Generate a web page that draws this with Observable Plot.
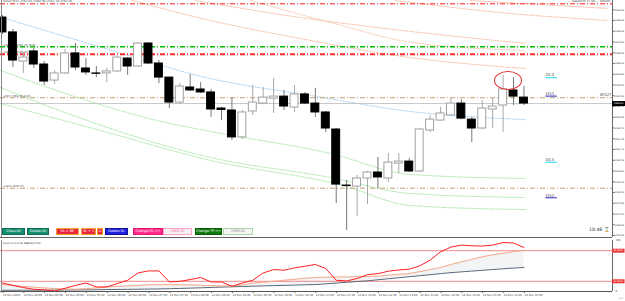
<!DOCTYPE html>
<html><head><meta charset="utf-8">
<script src="https://cdn.jsdelivr.net/npm/d3@7"></script>
<script src="https://cdn.jsdelivr.net/npm/@observablehq/plot@0.6"></script>
<style>
body{margin:0;background:#fff;overflow:hidden;font-family:"DejaVu Sans",sans-serif}
#wrap{position:relative;width:625px;height:301px;overflow:hidden}
#main{position:absolute;left:0;top:0}
#sub{position:absolute;left:0;top:238px}
.btn{position:absolute;top:228px;height:7px;font-size:3.4px;line-height:5px;text-align:center;color:#fff;box-sizing:border-box;border:1px solid;white-space:nowrap;overflow:hidden}
#clock{position:absolute;left:589px;top:227px;font-size:4.6px;color:#333}
#ell{position:absolute;border:1px solid #e03030;border-radius:50%;box-sizing:border-box}
.toptxt{position:absolute;top:-1px;font-size:3px;color:#444;white-space:nowrap}
</style></head><body>
<div id="wrap"><div id="main"></div><div id="sub"></div></div>
<script>
// ---- candles (15 min, 14 Nov 2024) ----
const times = ["03:30","03:45","04:00","04:15","04:30","04:45","05:00","05:15","05:30","05:45","06:00","06:15","06:30","06:45","07:00","07:15","07:30","07:45","08:00","08:15","08:30","08:45","09:00","09:15","09:30","09:45","10:00","10:15","10:30","10:45","11:00","11:15","11:30","11:45","12:00","12:15","12:30","12:45","13:00","13:15","13:30","13:45","14:00","14:15","14:30","14:45","15:00","15:15","15:30","15:45","16:00"];
const open  = [2569.11,2568.21,2566.45,2567.06,2566.27,2565.30,2565.73,2566.94,2566.03,2565.73,2565.73,2565.85,2566.63,2566.15,2567.54,2566.33,2565.48,2563.97,2564.88,2564.76,2564.58,2563.61,2563.49,2561.86,2563.43,2563.91,2564.21,2564.33,2563.67,2564.46,2563.91,2563.37,2562.34,2558.95,2558.89,2559.38,2559.74,2559.38,2560.28,2560.40,2559.80,2562.28,2562.88,2563.19,2563.91,2562.94,2562.40,2563.55,2563.79,2564.70,2564.27];
const high  = [2569.23,2568.39,2567.00,2567.24,2566.45,2565.91,2567.18,2567.54,2566.63,2566.15,2566.03,2566.75,2566.69,2567.60,2567.60,2566.51,2565.48,2565.12,2565.67,2565.18,2564.76,2563.67,2564.27,2563.49,2565.00,2564.88,2565.42,2564.70,2565.00,2564.58,2564.82,2563.43,2562.40,2559.26,2559.56,2559.80,2560.65,2560.89,2560.89,2560.59,2562.40,2563.19,2563.67,2564.27,2564.15,2563.07,2564.09,2564.21,2565.61,2565.48,2564.94];
const low   = [2568.08,2566.09,2565.73,2566.03,2565.00,2565.06,2565.67,2565.91,2565.61,2565.48,2565.18,2565.79,2565.61,2566.09,2566.27,2565.12,2563.61,2563.85,2564.64,2564.52,2563.07,2562.88,2561.67,2561.74,2563.19,2563.85,2563.31,2563.49,2563.37,2563.85,2563.07,2562.16,2557.87,2556.23,2557.08,2557.80,2558.77,2559.13,2559.68,2559.74,2559.74,2562.16,2562.88,2563.13,2562.94,2561.55,2562.34,2562.40,2562.16,2563.79,2563.79];
const close = [2568.21,2566.51,2566.69,2566.27,2565.24,2565.73,2566.94,2566.09,2565.79,2565.71,2565.85,2566.69,2566.15,2567.54,2566.33,2565.48,2563.97,2564.94,2564.70,2564.58,2563.55,2563.52,2561.86,2563.37,2563.97,2564.27,2564.33,2563.73,2564.46,2563.91,2563.37,2562.40,2559.01,2558.92,2559.38,2559.74,2559.44,2560.34,2560.40,2559.80,2562.34,2562.94,2563.31,2563.91,2563.00,2562.40,2563.61,2563.73,2564.76,2564.33,2563.91];

// ---- stochastic sub-window ----
const stochMain = [16.7,12,7.7,4.3,3.3,1,6.3,12,16.7,8.9,8.9,15.6,22,36.4,40.4,40.4,18.7,20,23.4,27.4,18.7,18.7,10.2,16.7,22,36.4,43,41.7,46.3,49.6,53,45,22,20.7,25.4,33,35,39.8,42.3,43.7,50.2,61.4,77.8,87,91,89.6,89,91,96,95,86.4];
const stochSignal = [13.6,12,10,8.5,7,5.7,5,4.5,5.5,7,8.9,10,11,12,13,13.6,13.5,13.2,13,12.2,11.5,11,10.8,13,16.7,18,20,22,24,26,27.4,28,28.5,28.5,29,29.5,30,32,33.5,35.2,39,43,47,53,58,63,68,72,75,78,81];
const stochSlow = [2.4,2.4,2.5,2.5,2.6,2.8,2.9,3.0,3.2,3.4,3.8,4.0,4.2,4.5,4.8,5.0,5.5,6.0,6.6,7.2,8.0,8.6,9.2,9.8,10.4,11.0,11.5,12.0,12.6,13.1,13.6,15.0,16.5,18.0,19.5,21.0,23.0,25.0,27.0,29.0,31.0,33.0,35.0,37.0,38.5,40.0,41.5,43.0,44.5,46.0,47.0];
const stochLevels = [80, 20];
const stochLevelLabels = ["80.0000", "20.0000"];

// ---- axis ticks ----
const priceTicks = [2569.58,2568.93,2568.28,2567.63,2566.98,2566.33,2565.68,2565.03,2564.38,2563.73,2563.08,2562.43,2561.78,2561.13,2560.48,2559.83,2559.18,2558.53,2557.88,2557.23,2556.58,2555.93];
const timeTickIdx = [0,2,4,6,8,10,12,14,16,18,20,22,24,26,28,30,32,34,36,38,40,42,44,46,48,50];
const timeTickLabels = ["14 Nov 2024","14 Nov 04:00","14 Nov 04:30","14 Nov 05:00","14 Nov 05:30","14 Nov 06:00","14 Nov 06:30","14 Nov 07:00","14 Nov 07:30","14 Nov 08:00","14 Nov 08:30","14 Nov 09:00","14 Nov 09:30","14 Nov 10:00","14 Nov 10:30","14 Nov 11:00","14 Nov 11:30","14 Nov 12:00","14 Nov 12:30","14 Nov 13:00","14 Nov 13:30","14 Nov 14:00","14 Nov 14:30","14 Nov 15:00","14 Nov 15:30","14 Nov 16:00"];

// ---- horizontal levels ----
const levelPrices = [2569.94, 2567.34, 2566.89, 2564.26, 2558.79];
const levelColors = ["#ff1a1a", "#00c000", "#ff2a2a", "#c4a070", "#c4a070"];
const levelWidths = [1, 1.4, 1.8, 1, 1];
const levelTexts = ["", "#SELL TP 2567.34 x0.01", "#SELL SL 2566.89", "#BUY 2564.26 x0.01", "#SELL 2558.79"];

// ---- dotted channel curves (candle index, price) ----
const blueIdx = [0.29, 9.88, 19.94, 29.53, 39.12, 50.14];
const bluePx  = [2569.05, 2567.24, 2565.42, 2564.40, 2563.43, 2562.94];
const s1Idx = [18.5, 28.57, 39.12, 50.14];       const s1Px = [2570.14, 2569.11, 2568.27, 2567.54];
const s2Idx = [12.46, 19.94, 28.57, 39.12, 50.14]; const s2Px = [2570.14, 2568.93, 2567.84, 2566.69, 2566.03];
const s3Idx = [23.78, 31.45, 39.12, 50.14];      const s3Px = [2570.14, 2568.81, 2567.62, 2567.12];
const s4Idx = [37.68, 47.75, 58.0];              const s4Px = [2570.14, 2569.41, 2568.93];
const s5Idx = [44.87, 58.0];                     const s5Px = [2570.14, 2569.66];
const g1Idx = [-0.19, 8.15, 14.86, 19.94, 31.45, 39.12, 50.14]; const g1Px = [2565.91, 2564.09, 2562.88, 2562.22, 2560.89, 2559.62, 2559.38];
const g2Idx = [-0.19, 6.23, 19.94, 31.45, 39.12, 50.14];        const g2Px = [2564.88, 2563.31, 2560.65, 2559.44, 2558.47, 2558.23];
const g3Idx = [-0.19, 9.40, 19.94, 32.69, 39.12, 50.14];        const g3Px = [2563.91, 2562.28, 2560.47, 2558.95, 2557.74, 2557.50];

// ---- right-side labels ----
const tagNames = ["DL3", "DS1", "DL4", "DS2"];
const tagPrices = [2565.47, 2564.36, 2560.36, 2558.21];
const tagColors = ["#00d8f0", "#1010c0", "#00d8f0", "#1010c0"];

const xDomain = [-0.19, 58.49];
const candles = times.map((t, i) => ({i, t, o: open[i], h: high[i], l: low[i], c: close[i], up: close[i] >= open[i]}));
const curve = (idx, px) => idx.map((x, k) => ({x, y: px[k]}));
const dotted = (idx, px, color, op = 0.9) => Plot.line(curve(idx, px), {x: "x", y: "y", curve: "monotone-x", stroke: color, strokeWidth: 0.9, strokeDasharray: "1,1.4", strokeOpacity: op});
const levels = levelPrices.map((p, k) => ({p, color: levelColors[k], w: levelWidths[k], text: levelTexts[k]}));
const last = close[close.length - 1];

const main = Plot.plot({
  width: 625, height: 238, marginLeft: 0, marginRight: 13, marginTop: 0, marginBottom: 1,
  x: {domain: xDomain, axis: null},
  y: {domain: [2555.81, 2570.14], axis: null},
  style: {fontFamily: "DejaVu Sans, sans-serif", background: "#fff", overflow: "visible"},
  marks: [
    dotted(s4Idx, s4Px, "#f6a888"), dotted(s5Idx, s5Px, "#f6a888"),
    dotted(s1Idx, s1Px, "#f6a888"), dotted(s2Idx, s2Px, "#f6a888"), dotted(s3Idx, s3Px, "#f6b898"),
    dotted(blueIdx, bluePx, "#8cc4f0"),
    dotted(g1Idx, g1Px, "#8ee08e"), dotted(g2Idx, g2Px, "#8ee08e"), dotted(g3Idx, g3Px, "#8ee08e"),
    Plot.ruleY(levels, {y: "p", stroke: "color", strokeWidth: "w", strokeDasharray: "5,2,1,2", x1: xDomain[0], x2: xDomain[1]}),
    Plot.text(levels, {y: "p", x: xDomain[0], text: "text", textAnchor: "start", dx: 3, dy: -1.8, fontSize: 2.6, fill: "#444"}),
    Plot.ruleY([last], {stroke: "#c8c8c8", strokeWidth: 1}),
    Plot.ruleX(candles, {x: "i", y1: "l", y2: "h", stroke: d => d.up ? "#a8a8a8" : "#777", strokeWidth: 1}),
    Plot.rect(candles, {x1: d => d.i - 0.38, x2: d => d.i + 0.38, y1: "o", y2: "c", fill: d => d.up ? "#fff" : "#000", stroke: d => d.up ? "#a0a0a0" : "#000", strokeWidth: 1}),
    Plot.ruleY(tagPrices, {y: d => d, x1: 52.1, x2: 53.2, stroke: (d, k) => tagColors[k], strokeWidth: 0.9}),
    Plot.text(tagNames, {x: 52.1, y: (d, k) => tagPrices[k], text: d => d, textAnchor: "start", dy: -2.6, fontSize: 4.2, fill: "#555"}),
    Plot.text(["WS2?"], {x: 58.4, y: [2564.26], text: d => d, textAnchor: "end", dy: -3.4, fontSize: 4.2, fill: "#555"}),
    Plot.ruleX([xDomain[1]], {stroke: "#666", strokeWidth: 1}),
    Plot.ruleX([xDomain[0]], {stroke: "#888", strokeWidth: 1, dx: 1}),
    Plot.ruleY([2555.81], {stroke: "#666", strokeWidth: 1}),
    Plot.axisY(priceTicks, {anchor: "right", tickSize: 1.5, tickPadding: 0.5, tickFormat: d => d.toFixed(2), fontSize: 2.3, fill: "#444", stroke: "#666"}),
    Plot.ruleY([last], {x1: xDomain[1], x2: xDomain[1] + 1.25, stroke: "#000", strokeWidth: 5}),
    Plot.text([last], {x: xDomain[1], y: d => d, text: d => d.toFixed(2), textAnchor: "start", dx: 1.5, fontSize: 2.3, fill: "#fff"})
  ]
});
document.getElementById("main").appendChild(main);

const stoch = times.map((t, i) => ({i, k: stochMain[i], d: stochSignal[i], s: stochSlow[i]}));
const sub = Plot.plot({
  width: 625, height: 63, marginLeft: 0, marginRight: 13, marginTop: 2, marginBottom: 10,
  x: {domain: xDomain, axis: null},
  y: {domain: [0, 100], axis: null},
  style: {fontFamily: "DejaVu Sans, sans-serif", background: "transparent", overflow: "visible"},
  marks: [
    Plot.areaY(stoch, {x: "i", y1: "s", y2: "d", fill: "#c9ced6", fillOpacity: 0.22}),
    Plot.ruleY(stochLevels, {stroke: "#f08a8a", strokeWidth: 1}),
    Plot.line(stoch, {x: "i", y: "s", stroke: "#5a6878", strokeWidth: 1}),
    Plot.line(stoch, {x: "i", y: "d", stroke: "#f7a78a", strokeWidth: 1}),
    Plot.line(stoch, {x: "i", y: "k", stroke: "#ff2020", strokeWidth: 1}),
    Plot.text(["Stoch(14,3,3) 84.5888 86.2753"], {x: xDomain[0], y: 100, text: d => d, frameAnchor: "top-left", textAnchor: "start", dx: 2.5, dy: 2, fontSize: 2.4, fill: "#333"}),
    Plot.ruleX([xDomain[1]], {stroke: "#666"}),
    Plot.ruleX([xDomain[0]], {stroke: "#888", dx: 1}),
    Plot.ruleY([0], {stroke: "#555"}),
    Plot.ruleY(stochLevels, {x1: xDomain[1], x2: xDomain[1] + 1.2, stroke: "#e83838", strokeWidth: 4}),
    Plot.text(stochLevels, {x: xDomain[1], y: d => d, text: (d, k) => stochLevelLabels[k], textAnchor: "start", dx: 1.2, fontSize: 2.2, fill: "#fff"}),
    Plot.text([100, 0], {x: xDomain[1], y: d => d, text: d => String(d), textAnchor: "start", dx: 3, fontSize: 2.6, fill: "#444"}),
    Plot.axisX(timeTickIdx, {anchor: "bottom", tickSize: 2, tickPadding: 1, tickFormat: d => timeTickLabels[timeTickIdx.indexOf(d)], textAnchor: "start", dx: 0.5, fontSize: 2.7, fill: "#444", stroke: "#666"})
  ]
});
document.getElementById("sub").appendChild(sub);

// ---- annotation ellipse around the last highs ----
const sx = main.scale("x"), sy = main.scale("y");
const cx = sx.apply(48.5), cy = sy.apply(2565.30);
const ell = document.createElement("div");
ell.id = "ell";
ell.style.left = (cx - 14) + "px"; ell.style.top = (cy - 9.5) + "px";
ell.style.width = "28px"; ell.style.height = "19px";
document.getElementById("wrap").appendChild(ell);

// ---- trade panel buttons ----
const buttons = [
  {t: "Close All", l: 2, w: 23, bg: "#15906e", bd: "#0c6e52", c: "#fff"},
  {t: "Delete All", l: 27, w: 22, bg: "#15906e", bd: "#0c6e52", c: "#fff"},
  {t: "SL = BE", l: 56, w: 23, bg: "#e8283c", bd: "#f0a030", c: "#fff"},
  {t: "SL + 1", l: 81, w: 15, bg: "#e8283c", bd: "#f0a030", c: "#fff"},
  {t: "A", l: 97, w: 6, bg: "#e8283c", bd: "#f0a030", c: "#fff"},
  {t: "Delete SL", l: 105, w: 23, bg: "#2020e0", bd: "#101090", c: "#fff"},
  {t: "Change SL >>", l: 133, w: 30, bg: "#ff2a8a", bd: "#e01870", c: "#fff"},
  {t: "2566.32", l: 163, w: 29, bg: "#f6f0f4", bd: "#ffa0c8", c: "#ff60a0"},
  {t: "Change TP >>", l: 195, w: 27, bg: "#107a10", bd: "#0a5a0a", c: "#fff"},
  {t: "2566.82", l: 223, w: 30, bg: "#f4f4f4", bd: "#a8d8a8", c: "#888"}
];
for (const b of buttons) {
  const d = document.createElement("div");
  d.className = "btn"; d.textContent = b.t;
  Object.assign(d.style, {left: b.l + "px", width: b.w + "px", background: b.bg, borderColor: b.bd, color: b.c});
  document.getElementById("wrap").appendChild(d);
}
const clk = document.createElement("div"); clk.id = "clock"; clk.textContent = "10:48 \u231B";
document.getElementById("wrap").appendChild(clk);
const tl = document.createElement("div"); tl.className = "toptxt"; tl.style.left = "3px"; tl.textContent = "GOLD,M15  2563.91 2564.94 2563.79 2563.91";
document.getElementById("wrap").appendChild(tl);
const tr = document.createElement("div"); tr.className = "toptxt"; tr.style.left = "568px"; tr.textContent = "\u2014 Diamond 47.08 \u2014 w8200";
document.getElementById("wrap").appendChild(tr);
</script>
</body></html>
